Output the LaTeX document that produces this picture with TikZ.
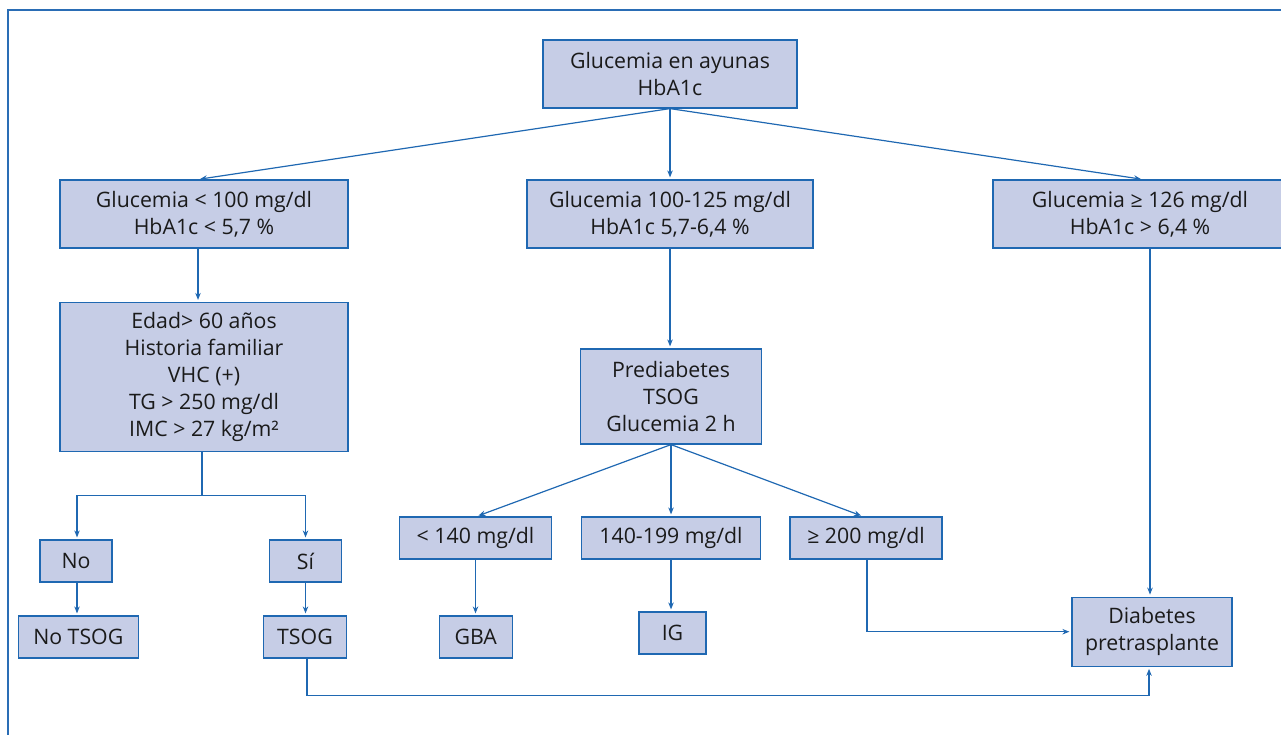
\documentclass[tikz,border=0pt]{standalone}
\usepackage{fontspec}
\setmainfont{Open Sans}
\usetikzlibrary{arrows.meta,calc}
\definecolor{lblue}{HTML}{1F68B2}
\definecolor{framec}{HTML}{2A6DB5}
\definecolor{bfill}{HTML}{C6CDE6}
\definecolor{txt}{HTML}{1A1A1A}
\begin{document}
\begin{tikzpicture}[x=1pt,y=-1pt,
  box/.style={draw=lblue, fill=bfill, line width=1.2pt, inner sep=0pt, align=center,
    font=\fontsize{21.3}{27}\selectfont, text=txt},
  arr/.style={draw=lblue, line width=1.2pt, -{Stealth[length=7pt,width=5.5pt]}, shorten >=2pt},
  ln/.style={draw=lblue, line width=1.2pt}]
\useasboundingbox (0,0) rectangle (1281,735);
\clip (0,0) rectangle (1281,735);
\draw[framec, line width=1.5pt] (8,740) -- (8,10) -- (1290,10);

\node[box, minimum width=254pt, minimum height=68pt] (top) at (670,74) {Glucemia en ayunas\\HbA1c};
\node[box, minimum width=288pt, minimum height=68pt] (l1) at (204,214) {Glucemia < 100 mg/dl\\HbA1c < 5,7 \%};
\node[box, minimum width=286pt, minimum height=68pt] (m1) at (670,214) {Glucemia 100-125 mg/dl\\HbA1c 5,7-6,4 \%};
\node[box, minimum width=294pt, minimum height=68pt] (r1) at (1140,214) {Glucemia ≥ 126 mg/dl\\HbA1c > 6,4 \%};
\node[box, minimum width=288pt, minimum height=149pt] (edad) at (204,377) {Edad> 60 años\\Historia familiar\\VHC (+)\\TG > 250 mg/dl\\IMC > 27 kg/m²};
\node[box, minimum width=181pt, minimum height=95pt] (pre) at (671,396.5) {Prediabetes\\TSOG\\Glucemia 2 h};
\node[box, minimum width=72pt, minimum height=42pt] (no) at (76,561) {No};
\node[box, minimum width=72pt, minimum height=42pt] (si) at (305.5,561) {Sí};
\node[box, minimum width=120pt, minimum height=42pt] (notsog) at (78.3,637) {No TSOG};
\node[box, minimum width=83pt, minimum height=42pt] (tsog) at (305,637) {TSOG};
\node[box, minimum width=152pt, minimum height=42pt] (lt) at (475.5,538) {< 140 mg/dl};
\node[box, minimum width=179pt, minimum height=42pt] (mid) at (671,538) {140-199 mg/dl};
\node[box, minimum width=152pt, minimum height=42pt] (ge) at (866,538) {≥ 200 mg/dl};
\node[box, minimum width=73pt, minimum height=42pt] (gba) at (475.7,637) {GBA};
\node[box, minimum width=67pt, minimum height=42pt] (ig) at (672.5,633) {IG};
\node[box, minimum width=160pt, minimum height=69pt] (dia) at (1152,631.7) {Diabetes\\pretrasplante};

% top level
\draw[arr] (top.south) -- ([xshift=-6pt]l1.north);
\draw[arr] (top.south) -- (m1.north);
\draw[arr] (top.south) -- ([xshift=3pt]r1.north);
% left branch
\draw[arr] ([xshift=-6pt]l1.south) -- ([xshift=-6pt]edad.north);
\coordinate (br) at ($(edad.south)+(-2,43)$);
\draw[ln] ([xshift=-2pt]edad.south) -- (br);
\draw[arr] (br) -| ([xshift=1pt]no.north);
\draw[arr] (br) -| (si.north);
\draw[arr] ([xshift=1pt]no.south) -- ([xshift=1pt]no.south |- notsog.north);
\draw[arr] (si.south) -- (si.south |- tsog.north);
% middle branch
\draw[arr] (m1.south) -- (m1.south |- pre.north);
\draw[arr] (pre.south) -- ([xshift=1pt]lt.north);
\draw[arr] (pre.south) -- (mid.north);
\draw[arr] (pre.south) -- ([xshift=-3pt]ge.north);
\draw[arr] (lt.south) -- (lt.south |- gba.north);
\draw[arr] (mid.south) -- (mid.south |- ig.north);
% to diabetes
\draw[arr] ([xshift=1pt]ge.south) |- (dia.west);
\draw[arr] ([xshift=10pt]r1.south) -- ([xshift=10pt]r1.south |- dia.north);
\coordinate (bot) at ($(tsog.south)+(2,37)$);
\draw[arr] ([xshift=2pt]tsog.south) -- (bot) -| ([xshift=-3pt]dia.south);
\end{tikzpicture}
\end{document}
